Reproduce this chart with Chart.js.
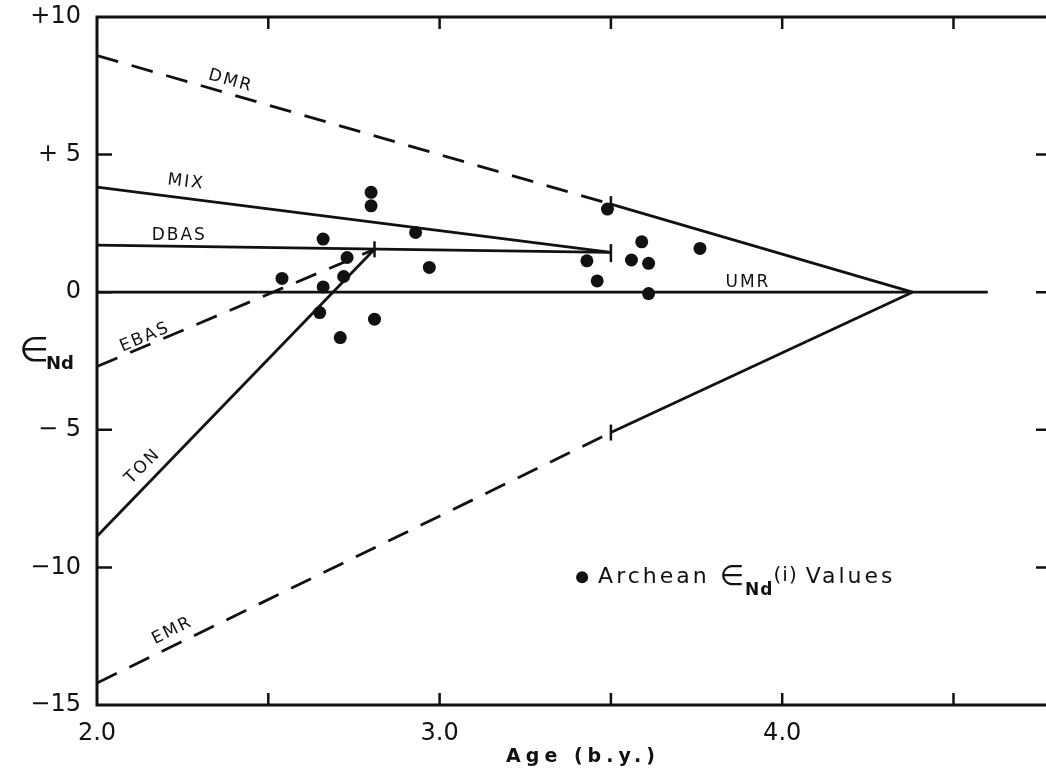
<!DOCTYPE html>
<html>
<head>
<meta charset="utf-8">
<script src="https://cdn.jsdelivr.net/npm/chart.js@4"></script>
<style>
  html, body { margin: 0; padding: 0; background: #fff; overflow: hidden; }
  #wrap { width: 1046px; height: 771px; }
  canvas { display: block; }
</style>
</head>
<body>
<div id="wrap"><canvas id="chart" width="1046" height="771"></canvas></div>
<script>
// Archean eNd(i) values
var ages = [2.54, 2.65, 2.66, 2.66, 2.71, 2.72, 2.73, 2.80, 2.80, 2.81, 2.93, 2.97, 3.43, 3.46, 3.49, 3.56, 3.59, 3.61, 3.61, 3.76];
var eNd = [0.5, -0.74, 1.93, 0.19, -1.65, 0.57, 1.26, 3.63, 3.14, -0.98, 2.17, 0.9, 1.14, 0.41, 3.02, 1.17, 1.83, 1.05, -0.05, 1.59];

// evolution curves (age, eNd)
var dmrX = [2.0, 3.5, 4.38], dmrY = [8.6, 3.2, 0];
var emrX = [2.0, 3.5, 4.38], emrY = [-14.2, -5.1, 0];
var umrX = [2.0, 4.6], umrY = [0, 0];
var mixX = [2.0, 3.5], mixY = [3.82, 1.45];
var dbasX = [2.0, 3.5], dbasY = [1.71, 1.45];
var ebasX = [2.0, 2.81], ebasY = [-2.7, 1.56];
var tonX = [2.0, 2.81], tonY = [-8.87, 1.56];

// short vertical marks on the curves
var markX = [3.5, 3.5, 2.81], markY = [3.2, -5.1, 1.56];
var barX = [3.5], barY = [1.42];

var xTicks = [2.0, 3.0, 4.0];
var yTickLabels = {10: '+10', 5: '+ 5', 0: '0', '-5': '\u2212 5', '-10': '\u221210', '-15': '\u221215'};

function pts(xs, ys) {
    return xs.map(function (x, i) { return {x: x, y: ys[i]}; });
}

function curve(xs, ys, dashFirst) {
    return {
        type: 'scatter',
        data: pts(xs, ys),
        showLine: true,
        borderColor: '#111',
        borderWidth: 2.8,
        pointRadius: 0,
        borderDash: dashFirst === 'all' ? [22, 14] : [],
        segment: dashFirst === true ? {
            borderDash: function (ctx) { return ctx.p0DataIndex === 0 ? [22, 14] : undefined; }
        } : undefined
    };
}

var textFont = '"DejaVu Sans", sans-serif';

var decor = {
    id: 'decor',
    afterDraw: function (chart) {
        var c = chart.ctx, a = chart.chartArea;
        var xs = chart.scales.x, ys = chart.scales.y;
        c.save();
        c.strokeStyle = '#111';
        c.fillStyle = '#111';
        // frame: top, left, bottom (right side runs off the picture)
        c.lineWidth = 3;
        c.beginPath();
        c.moveTo(a.right, a.top); c.lineTo(a.left, a.top);
        c.lineTo(a.left, a.bottom); c.lineTo(a.right, a.bottom);
        c.stroke();

        // inward tick marks
        c.lineWidth = 2.5;
        xs.ticks.forEach(function (t) {
            var px = xs.getPixelForValue(t.value);
            if (Math.abs(px - a.left) < 2) return;
            c.beginPath();
            c.moveTo(px, a.bottom); c.lineTo(px, a.bottom - 12);
            c.moveTo(px, a.top); c.lineTo(px, a.top + 12);
            c.stroke();
        });
        ys.ticks.forEach(function (t) {
            var py = ys.getPixelForValue(t.value);
            if (Math.abs(py - a.top) < 2 || Math.abs(py - a.bottom) < 2) return;
            c.beginPath();
            c.moveTo(a.left, py); c.lineTo(a.left + 15, py);
            c.moveTo(a.right, py); c.lineTo(a.right - 10, py);
            c.stroke();
        });

        function label(txt, x, y, rot, size) {
            c.save();
            c.translate(xs.getPixelForValue(x), ys.getPixelForValue(y));
            c.rotate(rot * Math.PI / 180);
            c.font = (size || 17) + 'px ' + textFont;
            c.letterSpacing = '2px';
            c.textAlign = 'center';
            c.textBaseline = 'middle';
            c.fillText(txt, 0, 0);
            c.restore();
        }
        label('DMR', 2.39, 7.67, 16);
        label('MIX', 2.26, 4.0, 7);
        label('DBAS', 2.24, 2.07, 0);
        label('EBAS', 2.14, -1.64, -23);
        label('TON', 2.134, -6.33, -45);
        label('EMR', 2.22, -12.3, -26);
        label('UMR', 3.90, 0.36, 0);

        // legend
        var lx = xs.getPixelForValue(3.416), ly = ys.getPixelForValue(-10.36);
        c.beginPath(); c.arc(lx, ly, 6, 0, Math.PI * 2); c.fill();
        c.textBaseline = 'middle';
        c.textAlign = 'left';
        c.letterSpacing = '3px';
        c.font = '22px ' + textFont;
        var cx = lx + 16;
        c.fillText('Archean', cx, ly); cx += c.measureText('Archean').width + 10;
        c.font = '28px ' + textFont;
        c.fillText('\u2208', cx, ly); cx += c.measureText('\u2208').width - 2;
        c.font = 'bold 17px ' + textFont;
        c.letterSpacing = '1px';
        c.fillText('Nd', cx, ly + 13); cx += c.measureText('Nd').width;
        c.font = '20px ' + textFont;
        c.fillText('(i)', cx, ly - 2); cx += c.measureText('(i)').width + 8;
        c.letterSpacing = '3px';
        c.font = '22px ' + textFont;
        c.fillText('Values', cx, ly);

        // axis titles
        c.textAlign = 'center';
        c.font = 'bold 19px ' + textFont;
        c.letterSpacing = '5px';
        c.fillText('Age (b.y.)', 583, 757);
        c.letterSpacing = '0px';
        c.font = '34px ' + textFont;
        c.fillText('\u2208', 34, 352);
        c.font = 'bold 18px ' + textFont;
        c.fillText('Nd', 60, 364);
        c.restore();
    }
};

var ctx = document.getElementById('chart');
var chart = new Chart(ctx, {
    type: 'scatter',
    data: {
        datasets: [
            curve(dmrX, dmrY, true),
            curve(emrX, emrY, true),
            curve(umrX, umrY),
            curve(mixX, mixY),
            curve(dbasX, dbasY),
            curve(ebasX, ebasY, 'all'),
            curve(tonX, tonY),
            {
                data: pts(markX, markY),
                pointStyle: 'line', rotation: 90, pointRadius: 8,
                borderColor: '#111', borderWidth: 2.5
            },
            {
                data: pts(barX, barY),
                pointStyle: 'line', rotation: 90, pointRadius: 9,
                borderColor: '#111', borderWidth: 2.5
            },
            {
                data: pts(ages, eNd),
                pointRadius: 6.5,
                backgroundColor: '#111',
                borderColor: '#111',
                borderWidth: 0
            }
        ]
    },
    options: {
        responsive: false,
        animation: false,
        layout: { autoPadding: false, padding: { top: 17, right: 0, left: 0, bottom: 0 } },
        plugins: { legend: { display: false }, tooltip: { enabled: false } },
        scales: {
            x: {
                type: 'linear', min: 2.0, max: 4.77,
                afterFit: function (s) { s.height = 66; s.paddingLeft = 0; s.paddingRight = 0; },
                afterBuildTicks: function (s) {
                    var t = [];
                    for (var v = 2.0; v <= 4.5001; v += 0.5) t.push({value: Math.round(v * 10) / 10});
                    s.ticks = t;
                },
                grid: { display: false },
                border: { display: false },
                ticks: {
                    color: '#111', padding: 6,
                    font: { family: textFont, size: 24 },
                    maxRotation: 0,
                    callback: function (v) { return xTicks.indexOf(v) >= 0 ? v.toFixed(1) : ''; }
                }
            },
            y: {
                type: 'linear', min: -15, max: 10,
                afterFit: function (s) { s.width = 97; s.paddingTop = 0; s.paddingBottom = 0; },
                grid: { display: false },
                border: { display: false },
                ticks: {
                    stepSize: 5, color: '#111', padding: 8,
                    font: { family: textFont, size: 24 },
                    callback: function (v) { return yTickLabels[v]; }
                }
            }
        }
    },
    plugins: [decor]
});
</script>
</body>
</html>
